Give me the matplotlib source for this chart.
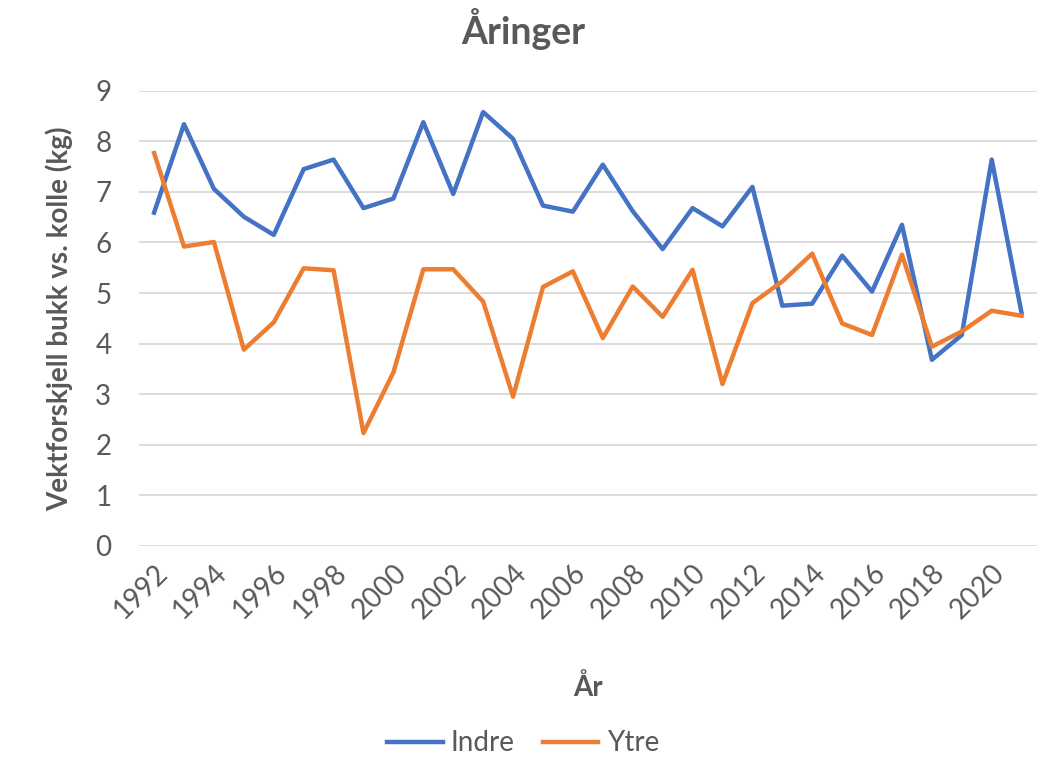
import matplotlib.pyplot as plt

# data
years = list(range(1992, 2022))
indre = [6.59, 8.34, 7.06, 6.51, 6.15, 7.45, 7.64, 6.68, 6.87, 8.38,
         6.96, 8.58, 8.05, 6.73, 6.61, 7.54, 6.62, 5.87, 6.68, 6.32,
         7.10, 4.75, 4.79, 5.74, 5.03, 6.35, 3.68, 4.17, 7.64, 4.60]
ytre = [7.77, 5.92, 6.01, 3.88, 4.42, 5.49, 5.45, 2.23, 3.43, 5.47,
        5.47, 4.83, 2.95, 5.12, 5.43, 4.11, 5.13, 4.53, 5.46, 3.20,
        4.80, 5.23, 5.78, 4.40, 4.17, 5.76, 3.94, 4.24, 4.65, 4.55]
xticks = list(range(1992, 2022, 2))
yticks = list(range(0, 10))

txt = '#595959'
plt.rcParams['font.family'] = ['Lato', 'DejaVu Sans']

fig = plt.figure(figsize=(10.46, 7.57), dpi=100)
ax = fig.add_axes([0.133, 0.279, 0.858, 0.601])

ax.plot(years, indre, color='#4472C4', linewidth=3.2, label='Indre', solid_joinstyle='round')
ax.plot(years, ytre, color='#ED7D31', linewidth=3.2, label='Ytre', solid_joinstyle='round')

ax.set_xlim(1991.5, 2021.5)
ax.set_ylim(0, 9)
ax.set_yticks(yticks)
ax.set_xticks(xticks)
ax.set_xticklabels([str(y) for y in xticks], rotation=45, ha='right',
                   rotation_mode='anchor', fontsize=20, color=txt)
ax.tick_params(axis='y', labelsize=20, labelcolor=txt, length=0, pad=20)
ax.tick_params(axis='x', length=0, pad=10)
ax.grid(axis='y', color='#D9D9D9', linewidth=1.3)
ax.set_axisbelow(True)
for s in ax.spines.values():
    s.set_visible(False)

fig.suptitle('Åringer', x=0.5, y=0.99, fontsize=27, fontweight='bold', color=txt)
ax.set_ylabel('Vektforskjell bukk vs. kolle (kg)', fontsize=20, fontweight='bold', color=txt, labelpad=16)
ax.set_xlabel('År', fontsize=20, fontweight='bold', color=txt, labelpad=36)

fig.legend(loc='lower center', ncol=2, frameon=False, fontsize=20,
           labelcolor=txt, bbox_to_anchor=(0.5, -0.032), handlelength=2.0,
           columnspacing=1.0, handletextpad=0.3)

fig.savefig('out.png', dpi=100)
